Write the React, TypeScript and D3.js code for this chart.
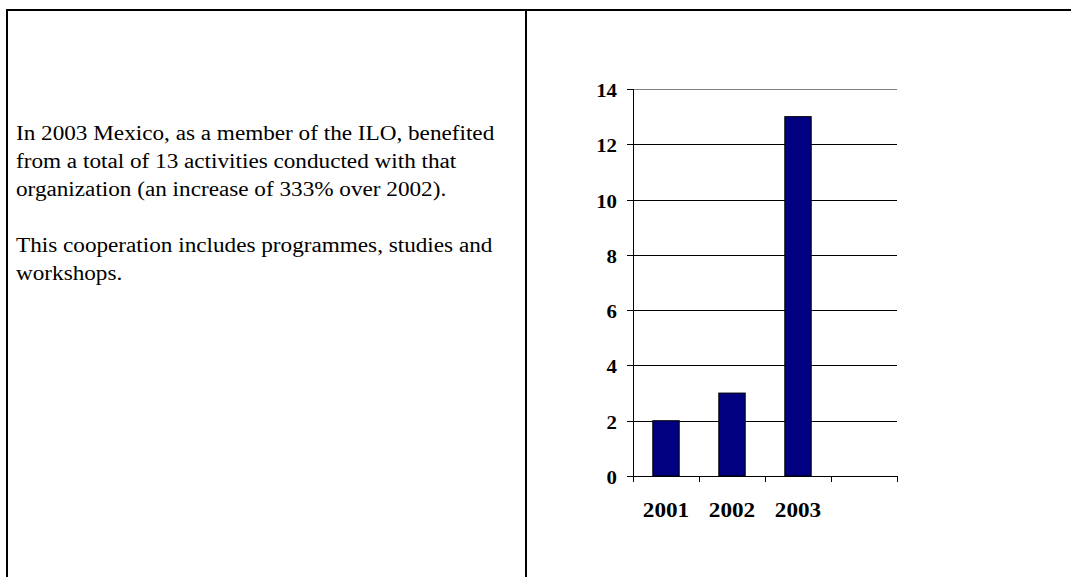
import React from "react";
import * as d3 from "d3";

const categories = ["2001", "2002", "2003", ""];
const values = [2, 3, 13, null];
const yTicks = [0, 2, 4, 6, 8, 10, 12, 14];
const bodyLines = [
  "In 2003 Mexico, as a member of the ILO, benefited",
  "from a total of 13 activities conducted with that",
  "organization (an increase of 333% over 2002).",
  "",
  "This cooperation includes programmes, studies and",
  "workshops.",
];

const W = 1071;
const H = 577;
const SX = 1.16;
const FONT = "'Liberation Serif', 'Times New Roman', serif";

export default function App() {
  const x = d3.scaleBand<string>().domain(categories).range([633, 897]).padding(0);
  const y = d3.scaleLinear().domain([0, 14]).range([476, 89]);
  const bw = x.bandwidth() / 2.5;

  const catEdges = categories.map((c) => x(c) as number).concat([897]);

  return (
    <svg
      width={W}
      height={H}
      style={{ position: "absolute", left: 0, top: 0, background: "#fff" }}
    >
      <rect x={0} y={0} width={W} height={H} fill="#fff" />
      {/* frame */}
      <line x1={6} x2={W} y1={10} y2={10} stroke="#000" strokeWidth={2} />
      <line x1={7} x2={7} y1={9} y2={H} stroke="#000" strokeWidth={2} />
      <line x1={526} x2={526} y1={10} y2={H} stroke="#000" strokeWidth={2} />

      {/* body text */}
      {bodyLines.map((t, i) => (
        <text
          key={i}
          transform={`translate(16,${140 + i * 28}) scale(${SX},1)`}
          fontFamily={FONT}
          fontSize={20}
          fill="#000"
        >
          {t}
        </text>
      ))}

      {/* gridlines */}
      {yTicks.map((v) => (
        <line
          key={"g" + v}
          x1={633}
          x2={897}
          y1={Math.round(y(v)) + 0.5}
          y2={Math.round(y(v)) + 0.5}
          stroke={v === 14 ? "#808080" : "#000"}
          strokeWidth={1}
        />
      ))}

      {/* bars */}
      {categories.map((c, i) =>
        values[i] == null ? null : (
          <rect
            key={"b" + c}
            x={(x(c) as number) + (x.bandwidth() - bw) / 2}
            y={y(values[i] as number)}
            width={bw}
            height={y(0) - y(values[i] as number)}
            fill="#000080"
            stroke="#000"
            strokeWidth={1}
          />
        )
      )}

      {/* y axis */}
      <line x1={633.5} x2={633.5} y1={89} y2={476} stroke="#000" strokeWidth={1} />
      {yTicks.map((v) => (
        <line
          key={"yt" + v}
          x1={627}
          x2={633}
          y1={Math.round(y(v)) + 0.5}
          y2={Math.round(y(v)) + 0.5}
          stroke="#000"
        />
      ))}
      {yTicks.map((v) => (
        <text
          key={"yl" + v}
          transform={`translate(617,${y(v) + 8}) scale(${SX},1)`}
          textAnchor="end"
          fontFamily={FONT}
          fontWeight="bold"
          fontSize={18}
          fill="#000"
        >
          {v}
        </text>
      ))}

      {/* x axis ticks */}
      {catEdges.map((e, i) => (
        <line
          key={"xt" + i}
          x1={Math.round(e) + 0.5}
          x2={Math.round(e) + 0.5}
          y1={476}
          y2={482}
          stroke="#000"
        />
      ))}
      {categories.map((c) =>
        c === "" ? null : (
          <text
            key={"xl" + c}
            transform={`translate(${(x(c) as number) + x.bandwidth() / 2},517) scale(${SX},1)`}
            textAnchor="middle"
            fontFamily={FONT}
            fontWeight="bold"
            fontSize={20}
            fill="#000"
          >
            {c}
          </text>
        )
      )}
    </svg>
  );
}
